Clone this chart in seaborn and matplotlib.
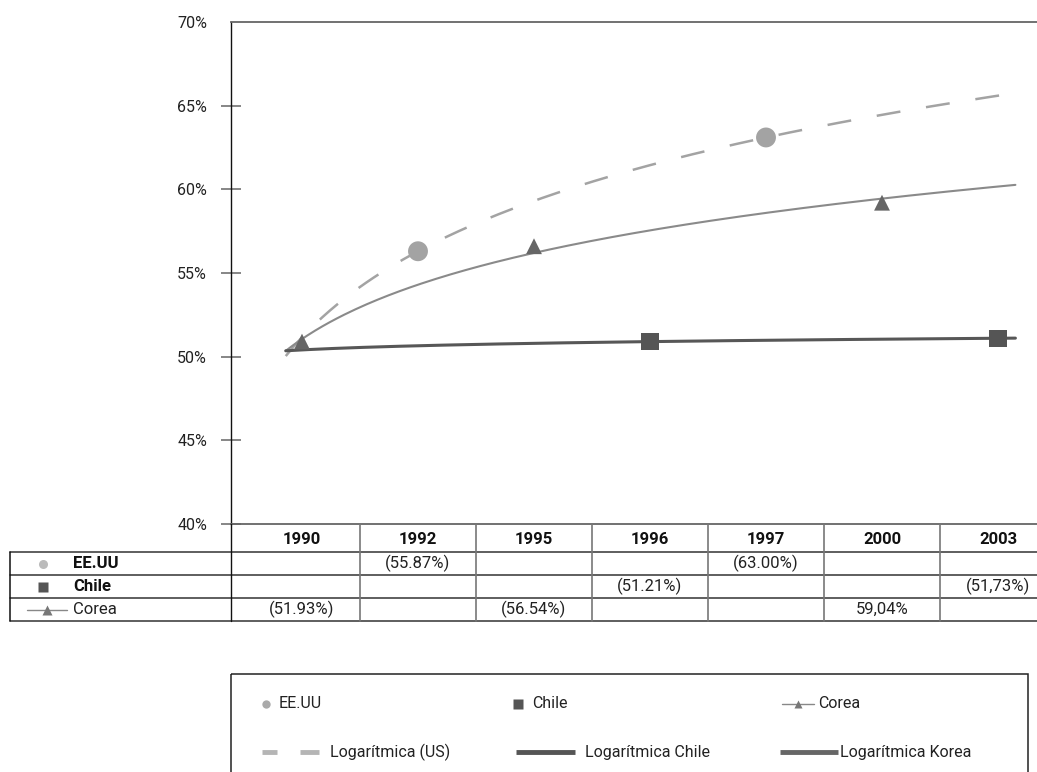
import numpy as np
import pandas as pd
import matplotlib
matplotlib.use("Agg")
import matplotlib.pyplot as plt
import matplotlib.transforms as mtransforms
from matplotlib.lines import Line2D
from matplotlib.patches import Rectangle
import seaborn as sns

# categorias del eje x
years = ["1990", "1992", "1995", "1996", "1997", "2000", "2003"]

us_vals = [np.nan, 56.3, np.nan, np.nan, 63.1, np.nan, np.nan]
chile_vals = [np.nan, np.nan, np.nan, 50.9, np.nan, np.nan, 51.1]
corea_vals = [50.9, np.nan, 56.6, np.nan, np.nan, 59.2, np.nan]

# textos de la tabla de datos
us_labels = ["", "(55.87%)", "", "", "(63.00%)", "", ""]
chile_labels = ["", "", "", "(51.21%)", "", "", "(51,73%)"]
corea_labels = ["(51.93%)", "", "(56.54%)", "", "", "59,04%", ""]

y_ticks = [40, 45, 50, 55, 60, 65, 70]

# tabla larga para seaborn
rows = []
for name, vals in [("EE.UU", us_vals), ("Chile", chile_vals), ("Corea", corea_vals)]:
    for i, v in enumerate(vals):
        if not np.isnan(v):
            rows.append({"serie": name, "idx": i, "valor": v})
df = pd.DataFrame(rows)


def log_trend(vals, grid):
    """Tendencia logaritmica tipo Excel: y = c*ln(k) + b, k = 1..n"""
    k = np.arange(1, len(vals) + 1)
    v = np.array(vals, dtype=float)
    m = ~np.isnan(v)
    c, b = np.polyfit(np.log(k[m]), v[m], 1)
    return c * np.log(grid + 1) + b


sns.set_theme(style="white")
plt.rcParams["font.family"] = ["Roboto", "DejaVu Sans"]

W, H = 1037, 772
fig = plt.figure(figsize=(W / 100, H / 100), dpi=100)
ax = fig.add_axes([231 / W, 1 - 524 / H, (1056 - 231) / W, (524 - 22) / H])

# lineas de tendencia
grid = np.linspace(-0.14, 6.15, 200)
sns.lineplot(x=grid, y=log_trend(us_vals, grid), ax=ax, color="#a3a3a3", lw=1.8)
ax.lines[-1].set_dashes([9.6, 10.4])
sns.lineplot(x=grid, y=log_trend(corea_vals, grid), ax=ax, color="#8a8a8a", lw=1.5)
sns.lineplot(x=grid, y=log_trend(chile_vals, grid), ax=ax, color="#575757", lw=2.2)

# marcadores
sns.scatterplot(data=df[df.serie == "EE.UU"], x="idx", y="valor", marker="o", s=205,
                color="#a3a3a3", edgecolor="none", ax=ax, zorder=4, legend=False)
sns.scatterplot(data=df[df.serie == "Corea"], x="idx", y="valor", marker="^", s=130,
                color="#666666", edgecolor="none", ax=ax, zorder=4, legend=False)
sns.scatterplot(data=df[df.serie == "Chile"], x="idx", y="valor", marker="s", s=150,
                color="#555555", edgecolor="none", ax=ax, zorder=4, legend=False)

ax.set_xlim(-0.612, 6.5)
ax.set_ylim(40, 70)
ax.set_xlabel("")
ax.set_ylabel("")
ax.set_xticks([])
ax.set_yticks(y_ticks)
ax.set_yticklabels([f"{t}%" for t in y_ticks])
ax.tick_params(axis="y", left=True, direction="inout", length=14.4, width=1.1,
               color="#666666", pad=10, labelsize=11.5, labelcolor="#222222")
ax.yaxis.get_major_ticks()[-1].tick1line.set_visible(False)

ax.spines["left"].set_color("#111111")
ax.spines["left"].set_linewidth(1.0)
for s in ["top", "bottom"]:
    ax.spines[s].set_color("#666666")
    ax.spines[s].set_linewidth(1.3)
ax.spines["right"].set_visible(False)

# transformaciones en pixeles (y hacia abajo)
pix = mtransforms.Affine2D().scale(1 / W, -1 / H).translate(0, 1) + fig.transFigure
tab = mtransforms.blended_transform_factory(ax.transData, pix)

# tabla de datos
for yl in [552, 575, 598, 621]:
    fig.add_artist(Line2D([10, W + 10], [yl, yl], transform=pix, color="#333333", lw=1.1))
fig.add_artist(Line2D([10, 10], [552, 621], transform=pix, color="#111111", lw=1.1))
fig.add_artist(Line2D([231, 231], [524, 621], transform=pix, color="#111111", lw=1.0))
for i in range(len(years) - 1):
    fig.add_artist(Line2D([i + 0.5, i + 0.5], [524, 621], transform=tab, color="#777777", lw=1.2))

for i, yr in enumerate(years):
    fig.text(i, 539, yr, transform=tab, ha="center", va="center", fontsize=12,
             fontweight="bold", color="#111111")

row_y = [563.5, 586.5, 609.5]
for yc, labels in zip(row_y, [us_labels, chile_labels, corea_labels]):
    for i, t in enumerate(labels):
        if t:
            fig.text(i, yc, t, transform=tab, ha="center", va="center", fontsize=12,
                     color="#222222")

fig.text(73, row_y[0], "EE.UU", transform=pix, va="center", fontsize=12, fontweight="bold", color="#111111")
fig.text(73, row_y[1], "Chile", transform=pix, va="center", fontsize=12, fontweight="bold", color="#111111")
fig.text(73, row_y[2], "Corea", transform=pix, va="center", fontsize=12, color="#222222")
fig.add_artist(Line2D([43], [row_y[0]], transform=pix, marker="o", ms=6.5, color="#bbbbbb", mec="none", ls="none"))
fig.add_artist(Line2D([43], [row_y[1]], transform=pix, marker="s", ms=7, color="#555555", mec="none", ls="none"))
fig.add_artist(Line2D([27, 67], [row_y[2], row_y[2]], transform=pix, color="#888888", lw=1.0))
fig.add_artist(Line2D([47], [row_y[2]], transform=pix, marker="^", ms=7.5, color="#777777", mec="none", ls="none"))

# leyenda
fig.add_artist(Rectangle((231, 674), 797, 200, transform=pix, fill=False, ec="#222222", lw=1.1))
ly1, ly2 = 704, 752
fs_leg = 11.5
fig.add_artist(Line2D([266], [ly1], transform=pix, marker="o", ms=6, color="#aaaaaa", mec="none", ls="none"))
fig.text(279, ly1, "EE.UU", transform=pix, va="center", fontsize=fs_leg, color="#222222")
fig.add_artist(Line2D([518], [ly1], transform=pix, marker="s", ms=7, color="#555555", mec="none", ls="none"))
fig.text(532, ly1, "Chile", transform=pix, va="center", fontsize=fs_leg, color="#222222")
fig.add_artist(Line2D([782, 814], [ly1, ly1], transform=pix, color="#888888", lw=1.0))
fig.add_artist(Line2D([798], [ly1], transform=pix, marker="^", ms=6, color="#777777", mec="none", ls="none"))
fig.text(818, ly1, "Corea", transform=pix, va="center", fontsize=fs_leg, color="#222222")

fig.add_artist(Line2D([262, 277], [ly2, ly2], transform=pix, color="#b5b5b5", lw=3.5, solid_capstyle="butt"))
fig.add_artist(Line2D([300, 319], [ly2, ly2], transform=pix, color="#b5b5b5", lw=3.5, solid_capstyle="butt"))
fig.text(330, ly2, "Logarítmica (US)", transform=pix, va="center", fontsize=fs_leg, color="#222222")
fig.add_artist(Line2D([516, 575], [ly2, ly2], transform=pix, color="#555555", lw=3.5, solid_capstyle="butt"))
fig.text(585, ly2, "Logarítmica Chile", transform=pix, va="center", fontsize=fs_leg, color="#222222")
fig.add_artist(Line2D([780, 838], [ly2, ly2], transform=pix, color="#666666", lw=3.5, solid_capstyle="butt"))
fig.text(840, ly2, "Logarítmica Korea", transform=pix, va="center", fontsize=fs_leg, color="#222222")

fig.savefig("out.png", dpi=100)
